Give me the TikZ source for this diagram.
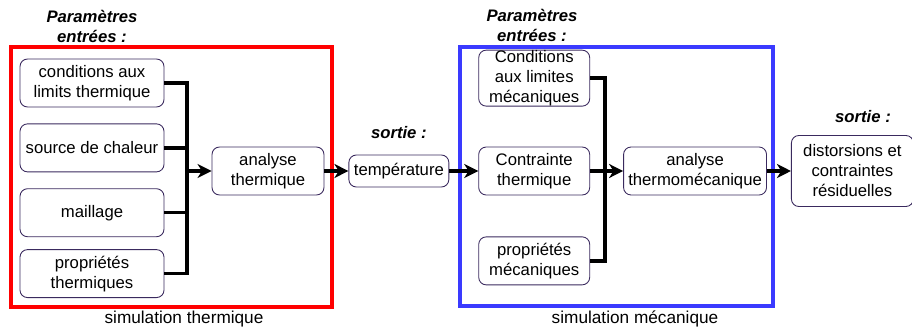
\documentclass[tikz,border=0pt]{standalone}
\usepackage{fontspec}
\setmainfont{Liberation Sans}
\usetikzlibrary{positioning,arrows.meta}

\definecolor{boxline}{HTML}{3A2A5E}
\definecolor{thframe}{HTML}{FF0000}
\definecolor{meframe}{HTML}{3A3AFF}

\tikzset{
  stepbox/.style={draw=boxline, line width=0.5pt, rounded corners=0.15cm,
    align=center, inner sep=1pt, font=\fontsize{9.5}{11.4}\selectfont},
  title/.style={align=center, font=\fontsize{9.5}{11.4}\selectfont\bfseries\itshape},
  caption/.style={font=\fontsize{9.8}{11.4}\selectfont},
  bus/.style={line width=1.9pt},
  flow/.style={line width=1.9pt, -{Stealth[length=8pt,width=8pt,inset=2.5pt]}},
  frame/.style={line width=2pt},
}

\begin{document}
\begin{tikzpicture}[x=0.02cm,y=-0.02cm]
  \useasboundingbox (0,0) rectangle (912,331);

  % thermal inputs
  \node [stepbox, minimum width=2.88cm, minimum height=0.96cm] (cond) at (92,83)
    {conditions aux\\limits thermique};
  \node [stepbox, minimum width=2.88cm, minimum height=0.96cm, below=0.32cm of cond] (src)
    {source de chaleur};
  \node [stepbox, minimum width=2.88cm, minimum height=0.96cm, below=0.32cm of src] (mesh)
    {maillage};
  \node [stepbox, minimum width=2.88cm, minimum height=0.96cm, below=0.24cm of mesh] (thprop)
    {propriétés\\thermiques};

  % thermal analysis and its output
  \node [stepbox, minimum width=2.24cm, minimum height=0.96cm] (anth) at (268,171)
    {analyse\\thermique};
  \node [stepbox, minimum width=2cm, minimum height=0.64cm, right=0.48cm of anth] (temp)
    {température};

  % mechanical inputs
  \node [stepbox, minimum width=2.22cm, minimum height=0.96cm, right=0.58cm of temp] (mcstr)
    {Contrainte\\thermique};
  \node [stepbox, inner ysep=0pt, minimum width=2.22cm, minimum height=1.12cm, above=0.8cm of mcstr] (mclim)
    {Conditions\\aux limites\\mécaniques};
  \node [stepbox, minimum width=2.22cm, minimum height=0.96cm, below=0.82cm of mcstr] (mcprop)
    {propriétés\\mécaniques};

  % mechanical analysis and its output
  \node [stepbox, minimum width=2.86cm, minimum height=0.96cm, right=0.66cm of mcstr] (anme)
    {analyse\\thermomécanique};
  \node [stepbox, minimum width=2.44cm, minimum height=1.42cm, right=0.48cm of anme] (dist)
    {distorsions et\\contraintes\\résiduelles};

  % titles
  \node [title] (inth) at (92,26) {Paramètres\\entrées :};
  \node [title] (inme) at (532,25) {Paramètres\\entrées :};
  \node [title, above=0.2cm of temp] (outth) {sortie :};
  \node [title] (outme) at (863,117) {sortie :};

  % frames
  \draw [frame, thframe] (11,47) rectangle (332,307);
  \draw [frame, meframe] (460,47) rectangle (773,306);
  \node [caption] (capth) at (184,319) {simulation thermique};
  \node [caption] (capme) at (635,319) {simulation mécanique};

  % junctions
  \coordinate (jth) at (187,171);
  \coordinate (jme) at (605,171);

  % connectors
  \draw [bus] (cond.east) -| (jth);
  \draw [bus] (thprop.east) -| (jth);
  \draw [bus] (src.east) -- (src.east -| jth);
  \draw [bus] (mesh.east) -- (mesh.east -| jth);
  \draw [flow] (jth) -- (anth);
  \draw [flow] (anth) -- (temp);
  \draw [flow] (temp) -- (mcstr);

  \draw [bus] (mclim.east) -| (jme);
  \draw [bus] (mcprop.east) -| (jme);
  \draw [bus] (mcstr.east) -- (jme);
  \draw [flow] (jme) -- (anme);
  \draw [flow] (anme) -- (dist);
\end{tikzpicture}
\end{document}
